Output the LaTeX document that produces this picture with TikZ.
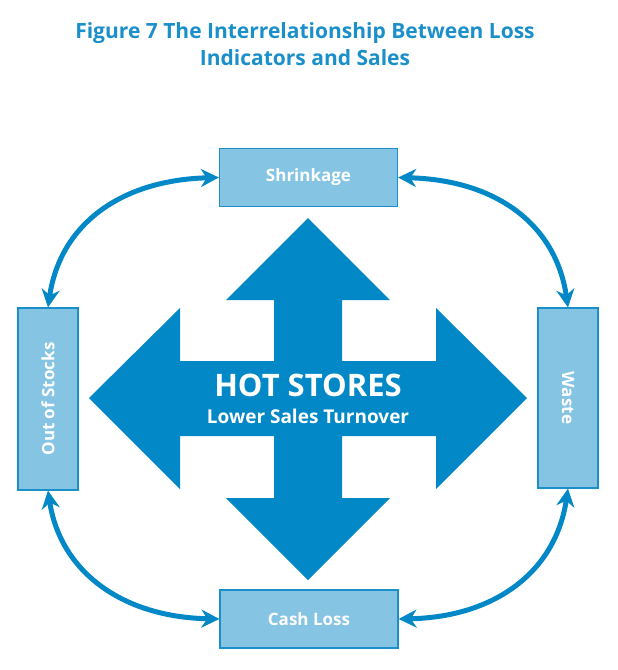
\documentclass[tikz,border=0pt]{standalone}
\usepackage{fontspec}
\setmainfont{Open Sans}
\usetikzlibrary{arrows.meta}
\definecolor{tblue}{HTML}{1A8FC9}
\definecolor{ablue}{HTML}{0288C7}
\definecolor{bfill}{HTML}{85C4E3}
\begin{document}
\begin{tikzpicture}[x=1pt,y=-1pt,
  box/.style={draw=tblue,line width=1.2pt,fill=bfill,text=white,font=\bfseries\fontsize{17}{20}\selectfont,inner sep=0pt},
  link/.style={draw=ablue,line width=5pt,{Stealth[length=18pt,width=18pt]}-{Stealth[length=18pt,width=18pt]}}]
\useasboundingbox (0,0) rectangle (618,670);
\node[text=tblue,font=\bfseries\fontsize{21}{27}\selectfont,align=center] (title) at (305,44) {Figure 7 The Interrelationship Between Loss\\Indicators and Sales};
\node[box,minimum width=178pt,minimum height=58pt] (shr) at (308.5,177.5) {Shrinkage};
\node[box,minimum width=178pt,minimum height=58pt] (cash) at (309,619) {Cash Loss};
\node[box,minimum width=60pt,minimum height=182pt] (oos) at (48,399) {};
\node[rotate=90,text=white,font=\bfseries\fontsize{17}{20}\selectfont] (oost) at (oos.center) {Out of Stocks};
\node[box,minimum width=60pt,minimum height=180pt] (waste) at (568,398) {};
\node[rotate=-90,text=white,font=\bfseries\fontsize{17}{20}\selectfont] (wastet) at (waste.center) {Waste};
\fill[ablue] (308,218) -- (390,300) -- (342,300) -- (342,361) -- (436,361) -- (436,308) -- (527,398)
  -- (436,489) -- (436,436) -- (342,436) -- (342,498) -- (390,498) -- (308,580) -- (226,498)
  -- (274,498) -- (274,436) -- (180,436) -- (180,489) -- (89,398) -- (180,308) -- (180,361)
  -- (274,361) -- (274,300) -- (226,300) -- cycle;
\node[text=white,font=\bfseries\fontsize{31}{34}\selectfont] (hot) at (308,385) {HOT STORES};
\node[text=white,font=\bfseries\fontsize{19}{22}\selectfont] (low) at (308,416) {Lower Sales Turnover};
\draw[link] (shr.west) .. controls (120,180) and (60,225) .. (oos.north);
\draw[link] (shr.east) .. controls (497,180) and (556,225) .. (waste.north);
\draw[link] (oos.south) .. controls (60,570) and (120,617) .. (cash.west);
\draw[link] (waste.south) .. controls (556,570) and (497,617) .. (cash.east);
\end{tikzpicture}
\end{document}
